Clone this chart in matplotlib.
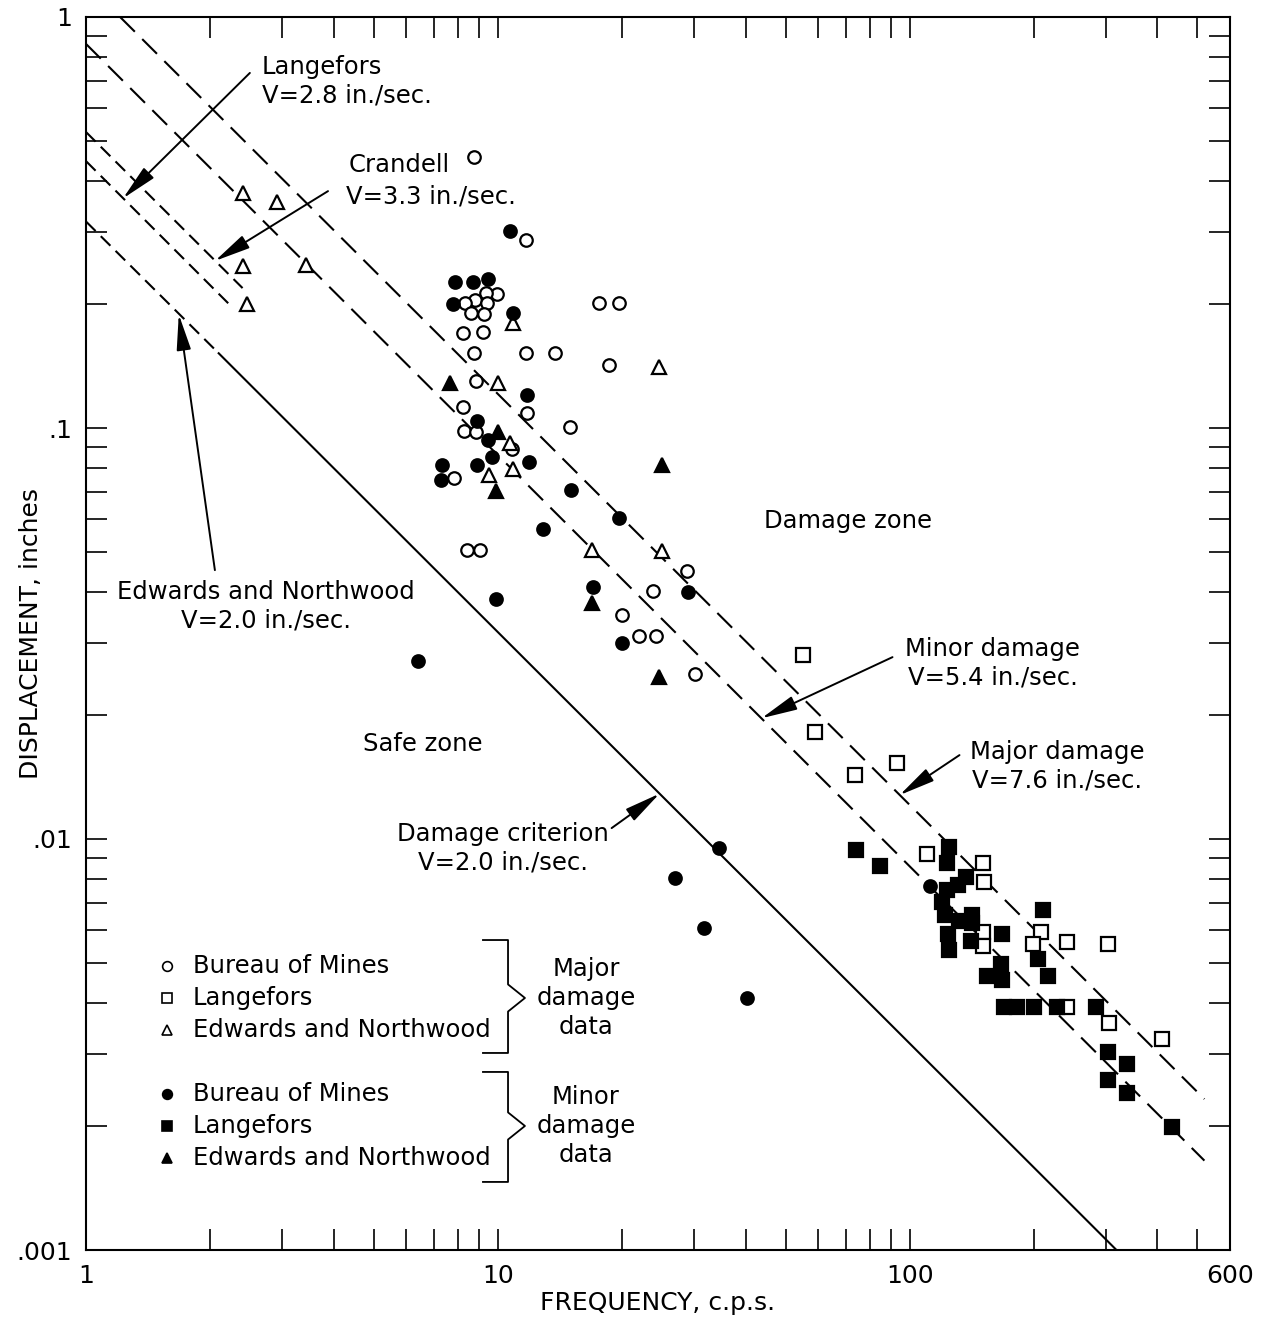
import numpy as np
import matplotlib
matplotlib.use("Agg")
import matplotlib.pyplot as plt
from matplotlib.ticker import FixedLocator, FixedFormatter, NullFormatter

plt.rcParams['font.family'] = ['DejaVu Sans']
NARROW = ['Liberation Sans Narrow', 'DejaVu Sans']

# ---- data (frequency c.p.s., displacement inches) ----
# major damage data (open markers)
bom_major_f = [8.74, 11.7, 9.94, 9.35, 8.80, 8.31, 9.39, 8.60, 9.25, 8.22, 9.2, 17.6, 19.7,
               8.74, 11.7, 13.75, 18.6, 8.84, 8.22, 11.76, 14.96, 8.26, 8.84, 10.8, 7.82,
               8.41, 9.04, 28.8, 23.8, 20.0, 22.0, 24.2, 30.2]
bom_major_d = [0.456, 0.287, 0.212, 0.213, 0.205, 0.201, 0.201, 0.190, 0.189, 0.170, 0.171, 0.201, 0.201,
               0.152, 0.152, 0.152, 0.142, 0.130, 0.1125, 0.109, 0.1006, 0.0983, 0.098, 0.089, 0.0755,
               0.0505, 0.0505, 0.0449, 0.0401, 0.0351, 0.0312, 0.0312, 0.0252]

lang_major_f = [55.0, 58.8, 73.5, 93.0, 110, 150.4, 151.3, 150.4, 150.4, 209.1, 198.9, 241.8,
                302.5, 241.8, 305.8, 411]
lang_major_d = [0.0280, 0.0182, 0.0143, 0.0153, 0.0092, 0.00874, 0.00786, 0.00594, 0.00549, 0.00594,
                0.00555, 0.00562, 0.00555, 0.0039, 0.00357, 0.00326]

en_major_f = [2.40, 2.91, 3.42, 2.40, 2.46, 10.9, 24.6, 10.0, 10.7, 10.87, 9.51, 16.9, 25.0]
en_major_d = [0.373, 0.355, 0.249, 0.248, 0.200, 0.180, 0.1407, 0.129, 0.092, 0.0795, 0.0769,
              0.0505, 0.0502]

# minor damage data (filled markers)
bom_minor_f = [10.7, 7.86, 8.70, 9.46, 7.78, 10.87, 11.76, 8.89, 9.46, 9.67, 8.89, 11.89, 7.31,
               7.28, 15.1, 12.86, 19.67, 28.9, 17.0, 9.89, 20.0, 6.40, 34.4, 26.9, 31.6, 40.4, 112.4]
bom_minor_d = [0.301, 0.2265, 0.2265, 0.230, 0.200, 0.190, 0.120, 0.104, 0.0935, 0.085, 0.0813,
               0.0827, 0.0813, 0.0747, 0.0707, 0.0568, 0.0604, 0.0399, 0.041, 0.0384, 0.030,
               0.0271, 0.0095, 0.00804, 0.00608, 0.0041, 0.00769]

lang_minor_f = [74.3, 84.6, 124.4, 123, 123, 130.8, 136.8, 119.6, 121.6, 131.5, 141.4, 141.4,
                123.7, 168.1, 140.6, 125, 210.3, 205.6, 216.3, 167.2, 153.8, 168, 170, 182,
                201, 227.5, 284.4, 304, 336.4, 302.5, 336.4, 435]
lang_minor_d = [0.0094, 0.0086, 0.00956, 0.00874, 0.00752, 0.00773, 0.00808, 0.00703, 0.00653,
                0.00632, 0.00653, 0.00625, 0.00587, 0.00587, 0.00565, 0.00537, 0.00672, 0.0051,
                0.00464, 0.00496, 0.00464, 0.00454, 0.0039, 0.0039, 0.0039, 0.0039, 0.0039,
                0.00303, 0.00284, 0.00259, 0.00241, 0.00199]

en_minor_f = [7.65, 10.0, 9.89, 25.0, 16.9, 24.7]
en_minor_d = [0.129, 0.098, 0.0703, 0.0813, 0.0375, 0.0248]

# velocity lines: end points (f, d)
major_line = ([1.21, 520], [1.0, 0.00233])        # V=7.6
minor_line = ([1.0, 520], [0.86, 0.00165])        # V=5.4
crandell_line = ([1.0, 2.40], [0.525, 0.219])     # V=3.3
langefors_line = ([1.0, 2.25], [0.446, 0.198])    # V=2.8
edwards_line = ([1.0, 2.1], [0.318, 0.152])       # V=2.0 (dashed part)
criterion_line = ([2.1, 318], [0.152, 0.001])     # V=2.0

xticks = [1, 10, 100, 600]
xticklabels = ['1', '10', '100', '600']
yticks = [0.001, 0.01, 0.1, 1]
yticklabels = ['.001', '.01', '.1', '1']

# ---- figure ----
W, H = 1277, 1321
fig = plt.figure(figsize=(W / 100, H / 100), dpi=100)
ax = fig.add_axes([86 / W, 1 - 1250 / H, (1230 - 86) / W, (1250 - 17) / H])
ax.set_xscale('log')
ax.set_yscale('log')
ax.set_xlim(1, 600)
ax.set_ylim(0.001, 1)

long_dash = (0, (10, 5))
short_dash = (0, (6.5, 3.5))
ax.plot(*major_line, color='black', lw=1.5, ls=long_dash)
ax.plot(*minor_line, color='black', lw=1.5, ls=long_dash)
ax.plot(*crandell_line, color='black', lw=1.5, ls=short_dash)
ax.plot(*langefors_line, color='black', lw=1.5, ls=short_dash)
ax.plot(*edwards_line, color='black', lw=1.5, ls=short_dash)
ax.plot(*criterion_line, color='black', lw=1.5, ls='-')

mk = dict(ls='none', color='black', mew=1.6)
ax.plot(bom_major_f, bom_major_d, marker='o', ms=9, mfc='white', **mk)
ax.plot(lang_major_f, lang_major_d, marker='s', ms=9.5, mfc='white', **mk)
ax.plot(en_major_f, en_major_d, marker='^', ms=10, mfc='white', **mk)
ax.plot(bom_minor_f, bom_minor_d, marker='o', ms=9, mfc='black', **mk)
ax.plot(lang_minor_f, lang_minor_d, marker='s', ms=9.5, mfc='black', **mk)
ax.plot(en_minor_f, en_minor_d, marker='^', ms=10, mfc='black', **mk)

# ticks
ax.xaxis.set_major_locator(FixedLocator(xticks))
ax.xaxis.set_major_formatter(FixedFormatter(xticklabels))
ax.xaxis.set_minor_locator(FixedLocator([2, 3, 4, 5, 6, 7, 8, 9, 20, 30, 40, 50, 60, 70, 80, 90,
                                         200, 300, 400, 500]))
ax.xaxis.set_minor_formatter(NullFormatter())
ax.yaxis.set_major_locator(FixedLocator(yticks))
ax.yaxis.set_major_formatter(FixedFormatter(yticklabels))
ax.yaxis.set_minor_locator(FixedLocator([m * 10.0 ** e for e in (-3, -2, -1) for m in range(2, 10)]))
ax.yaxis.set_minor_formatter(NullFormatter())
ax.tick_params(which='both', direction='in', top=True, right=True, length=15, width=1.2)
ax.tick_params(which='major', labelsize=18, pad=10)
for lab in ax.get_xticklabels() + ax.get_yticklabels():
    lab.set_family(NARROW)
for s in ax.spines.values():
    s.set_linewidth(1.5)

ax.set_xlabel('FREQUENCY, c.p.s.', fontsize=18, family=NARROW)
ax.xaxis.set_label_coords(0.5, -0.033)
ax.set_ylabel('DISPLACEMENT, inches', fontsize=18, family=NARROW)
ax.yaxis.set_label_coords(-0.038, 0.5)

# ---- annotations ----
fs = 17.5
arrow = dict(arrowstyle='-|>,head_width=0.22,head_length=1.1', color='black', lw=1.4,
             shrinkA=0, shrinkB=0, mutation_scale=20)
ax.annotate('', xy=(1.23, 0.362), xytext=(2.50, 0.731), arrowprops=arrow)
ax.text(2.674, 0.699, 'Langefors\nV=2.8 in./sec.', fontsize=fs, ha='left', va='center',
        linespacing=1.25)
ax.annotate('', xy=(2.057, 0.255), xytext=(3.87, 0.377), arrowprops=arrow)
ax.text(5.75, 0.436, 'Crandell', fontsize=fs, ha='center', va='center')
ax.text(6.9, 0.365, 'V=3.3 in./sec.', fontsize=fs, ha='center', va='center')
ax.annotate('', xy=(1.68, 0.189), xytext=(2.056, 0.0451), arrowprops=arrow)
ax.text(2.735, 0.0369, 'Edwards and Northwood\nV=2.0 in./sec.', fontsize=fs, ha='center',
        va='center', linespacing=1.25)
ax.annotate('', xy=(43.7, 0.01967), xytext=(90.9, 0.0277), arrowprops=arrow)
ax.text(159, 0.0268, 'Minor damage\nV=5.4 in./sec.', fontsize=fs, ha='center', va='center',
        linespacing=1.25)
ax.annotate('', xy=(94.6, 0.01279), xytext=(132.2, 0.016), arrowprops=arrow)
ax.text(228.6, 0.01505, 'Major damage\nV=7.6 in./sec.', fontsize=fs, ha='center', va='center',
        linespacing=1.25)
ax.annotate('', xy=(24.7, 0.01289), xytext=(18.9, 0.01063), arrowprops=arrow)
ax.text(10.28, 0.0095, 'Damage criterion\nV=2.0 in./sec.', fontsize=fs, ha='center', va='center',
        linespacing=1.25)
ax.text(70.7, 0.0594, 'Damage zone', fontsize=fs, ha='center', va='center')
ax.text(6.58, 0.0170, 'Safe zone', fontsize=fs, ha='center', va='center')

# ---- custom legend (axes fraction) ----
tr = ax.transAxes
rows = [0.2303, 0.2044, 0.1784, 0.1265, 0.1006, 0.0746]
names = ['Bureau of Mines', 'Langefors', 'Edwards and Northwood'] * 2
marks = ['o', 's', '^', 'o', 's', '^']
fills = ['white'] * 3 + ['black'] * 3
for yy, nm, m, fc in zip(rows, names, marks, fills):
    ax.plot([0.0708], [yy], marker=m, ms=7, mfc=fc, mec='black', mew=1.2, transform=tr,
            clip_on=False)
    ax.text(0.0935, yy, nm, fontsize=fs, ha='left', va='center', transform=tr)

def bracket(top, bot, tip):
    xs = [0.347, 0.3689, 0.3689, 0.3837, 0.3689, 0.3689, 0.347]
    ys = [top, top, tip + 0.011, tip, tip - 0.011, bot, bot]
    ax.plot(xs, ys, color='black', lw=1.3, transform=tr)

bracket(0.2514, 0.1598, 0.2044)
bracket(0.1444, 0.0552, 0.1006)
ax.text(0.437, 0.2044, 'Major\ndamage\ndata', fontsize=fs, ha='center', va='center',
        transform=tr, linespacing=1.25)
ax.text(0.437, 0.1006, 'Minor\ndamage\ndata', fontsize=fs, ha='center', va='center',
        transform=tr, linespacing=1.25)

fig.savefig('out.png', dpi=100, facecolor='white')
